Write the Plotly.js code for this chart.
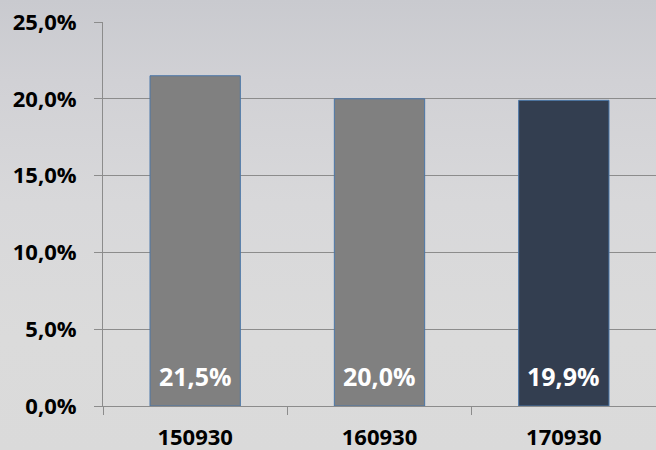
<!DOCTYPE html>
<html>
<head>
<meta charset="utf-8">
<script src="https://cdn.plot.ly/plotly-3.0.1.min.js"></script>
<style>
  html, body { margin: 0; padding: 0; }
  #chart {
    width: 656px; height: 450px;
    background: linear-gradient(180deg, #c9cacf 0%, #d1d1d5 18%, #d8d8da 45%, #dbdbdb 75%, #dadada 100%);
  }
</style>
</head>
<body>
<div id="chart"></div>
<script>
const categories = ['150930', '160930', '170930'];
const values = [21.5, 20.0, 19.9];
const valueLabels = ['21,5%', '20,0%', '19,9%'];
const barColors = ['#808080', '#808080', '#333e50'];
const yTickValues = [0, 5, 10, 15, 20, 25];
const yTickLabels = ['0,0%', '5,0%', '10,0%', '15,0%', '20,0%', '25,0%'];

const trace = {
  type: 'bar',
  x: categories,
  y: values,
  width: 0.49,
  marker: { color: barColors, line: { color: '#4a76a8', width: 1 } },
  hoverinfo: 'none'
};

const annotations = categories.map((c, i) => ({
  x: i, y: 0, xref: 'x', yref: 'y',
  text: valueLabels[i],
  showarrow: false,
  yanchor: 'bottom',
  yshift: 11,
  font: { family: 'Open Sans', size: 25, weight: 'bold', color: '#ffffff' }
}));

const layout = {
  width: 656, height: 450,
  margin: { l: 103, r: 0, t: 22, b: 44 },
  paper_bgcolor: 'rgba(0,0,0,0)',
  plot_bgcolor: 'rgba(0,0,0,0)',
  showlegend: false,
  xaxis: {
    type: 'category',
    range: [-0.5, categories.length - 0.5],
    tickson: 'boundaries',
    ticks: 'outside', ticklen: 8, tickcolor: '#8c8c8c', tickwidth: 1,
    showline: true, linecolor: '#8c8c8c', linewidth: 1,
    showgrid: false, zeroline: false,
    ticklabelstandoff: 12,
    tickfont: { family: 'Open Sans', size: 22, weight: 'bold', color: '#000000' }
  },
  yaxis: {
    range: [0, 25],
    tickvals: yTickValues, ticktext: yTickLabels,
    ticks: 'outside', ticklen: 8, tickcolor: '#8c8c8c', tickwidth: 1,
    showline: true, linecolor: '#8c8c8c', linewidth: 1,
    showgrid: true, gridcolor: '#8c8c8c', gridwidth: 1.2,
    zeroline: false,
    ticklabelstandoff: 13,
    tickfont: { family: 'Open Sans', size: 22, weight: 'bold', color: '#000000' }
  },
  annotations: annotations,
  bargap: 0.51
};

Plotly.newPlot('chart', [trace], layout, { displayModeBar: false, staticPlot: true });
</script>
</body>
</html>
